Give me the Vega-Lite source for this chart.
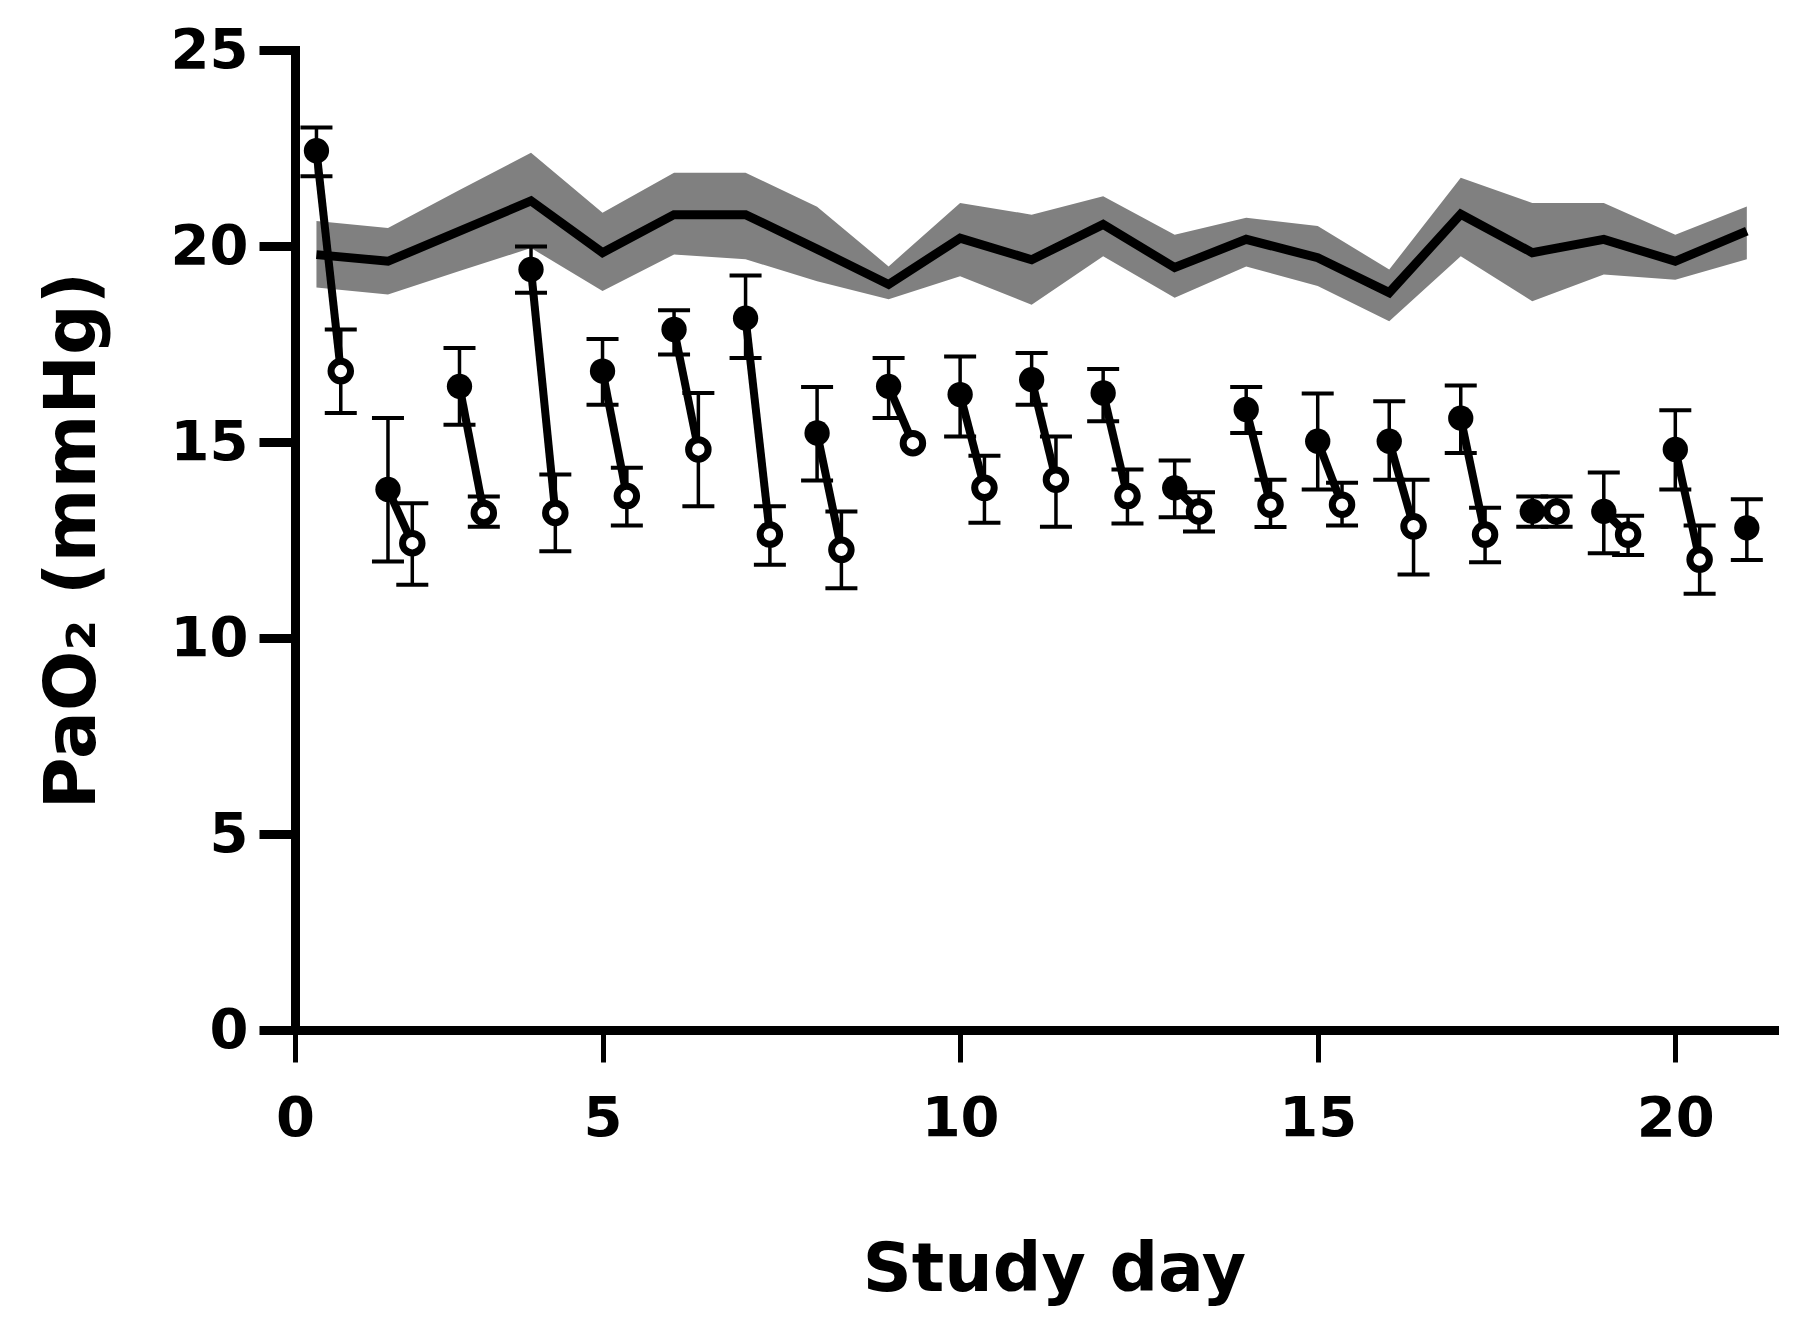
{
  "$schema": "https://vega.github.io/schema/vega-lite/v6.json",
  "width": 1479,
  "height": 980,
  "autosize": "none",
  "padding": {"left": 295, "top": 50, "right": 26, "bottom": 303},
  "background": "white",
  "config": {"view": {"stroke": null}, "axis": {"grid": false}},
  "datasets": {
    "control": [
      {"day": 1, "mean": 19.78, "lo": 18.94, "hi": 20.64},
      {"day": 2, "mean": 19.61, "lo": 18.76, "hi": 20.46},
      {"day": 3, "mean": 20.38, "lo": 19.36, "hi": 21.43},
      {"day": 4, "mean": 21.15, "lo": 19.95, "hi": 22.38},
      {"day": 5, "mean": 19.83, "lo": 18.85, "hi": 20.85},
      {"day": 6, "mean": 20.8, "lo": 19.78, "hi": 21.87},
      {"day": 7, "mean": 20.8, "lo": 19.66, "hi": 21.87},
      {"day": 8, "mean": 19.92, "lo": 19.1, "hi": 21.0},
      {"day": 9, "mean": 19.02, "lo": 18.64, "hi": 19.48},
      {"day": 10, "mean": 20.2, "lo": 19.23, "hi": 21.1},
      {"day": 11, "mean": 19.65, "lo": 18.5, "hi": 20.8},
      {"day": 12, "mean": 20.55, "lo": 19.74, "hi": 21.27},
      {"day": 13, "mean": 19.45, "lo": 18.68, "hi": 20.29},
      {"day": 14, "mean": 20.17, "lo": 19.48, "hi": 20.72},
      {"day": 15, "mean": 19.7, "lo": 18.98, "hi": 20.51},
      {"day": 16, "mean": 18.81, "lo": 18.08, "hi": 19.4},
      {"day": 17, "mean": 20.81, "lo": 19.74, "hi": 21.74},
      {"day": 18, "mean": 19.83, "lo": 18.59, "hi": 21.1},
      {"day": 19, "mean": 20.17, "lo": 19.27, "hi": 21.1},
      {"day": 20, "mean": 19.61, "lo": 19.14, "hi": 20.29},
      {"day": 21, "mean": 20.38, "lo": 19.66, "hi": 21.01}
    ],
    "patients": [
      {"day": 1, "t": 1, "phase": "pre", "mean": 22.43, "lo": 21.78, "hi": 23.02},
      {"day": 1, "t": 1.34, "phase": "post", "mean": 16.81, "lo": 15.74, "hi": 17.87},
      {"day": 2, "t": 2, "phase": "pre", "mean": 13.79, "lo": 11.95, "hi": 15.61},
      {"day": 2, "t": 2.34, "phase": "post", "mean": 12.42, "lo": 11.36, "hi": 13.44},
      {"day": 3, "t": 3, "phase": "pre", "mean": 16.42, "lo": 15.44, "hi": 17.4},
      {"day": 3, "t": 3.34, "phase": "post", "mean": 13.19, "lo": 12.84, "hi": 13.61},
      {"day": 4, "t": 4, "phase": "pre", "mean": 19.4, "lo": 18.81, "hi": 19.99},
      {"day": 4, "t": 4.34, "phase": "post", "mean": 13.19, "lo": 12.21, "hi": 14.17},
      {"day": 5, "t": 5, "phase": "pre", "mean": 16.81, "lo": 15.95, "hi": 17.63},
      {"day": 5, "t": 5.34, "phase": "post", "mean": 13.62, "lo": 12.87, "hi": 14.34},
      {"day": 6, "t": 6, "phase": "pre", "mean": 17.87, "lo": 17.23, "hi": 18.36},
      {"day": 6, "t": 6.34, "phase": "post", "mean": 14.81, "lo": 13.36, "hi": 16.25},
      {"day": 7, "t": 7, "phase": "pre", "mean": 18.16, "lo": 17.14, "hi": 19.25},
      {"day": 7, "t": 7.34, "phase": "post", "mean": 12.64, "lo": 11.87, "hi": 13.36},
      {"day": 8, "t": 8, "phase": "pre", "mean": 15.23, "lo": 14.02, "hi": 16.4},
      {"day": 8, "t": 8.34, "phase": "post", "mean": 12.25, "lo": 11.27, "hi": 13.23},
      {"day": 9, "t": 9, "phase": "pre", "mean": 16.42, "lo": 15.61, "hi": 17.14},
      {"day": 9, "t": 9.34, "phase": "post", "mean": 14.97, "lo": null, "hi": null},
      {"day": 10, "t": 10, "phase": "pre", "mean": 16.21, "lo": 15.14, "hi": 17.18},
      {"day": 10, "t": 10.34, "phase": "post", "mean": 13.83, "lo": 12.94, "hi": 14.65},
      {"day": 11, "t": 11, "phase": "pre", "mean": 16.59, "lo": 15.95, "hi": 17.27},
      {"day": 11, "t": 11.34, "phase": "post", "mean": 14.04, "lo": 12.84, "hi": 15.14},
      {"day": 12, "t": 12, "phase": "pre", "mean": 16.25, "lo": 15.53, "hi": 16.86},
      {"day": 12, "t": 12.34, "phase": "post", "mean": 13.62, "lo": 12.92, "hi": 14.3},
      {"day": 13, "t": 13, "phase": "pre", "mean": 13.83, "lo": 13.08, "hi": 14.53},
      {"day": 13, "t": 13.34, "phase": "post", "mean": 13.23, "lo": 12.72, "hi": 13.72},
      {"day": 14, "t": 14, "phase": "pre", "mean": 15.83, "lo": 15.23, "hi": 16.4},
      {"day": 14, "t": 14.34, "phase": "post", "mean": 13.4, "lo": 12.83, "hi": 14.04},
      {"day": 15, "t": 15, "phase": "pre", "mean": 15.02, "lo": 13.79, "hi": 16.24},
      {"day": 15, "t": 15.34, "phase": "post", "mean": 13.4, "lo": 12.87, "hi": 13.96},
      {"day": 16, "t": 16, "phase": "pre", "mean": 15.02, "lo": 14.04, "hi": 16.04},
      {"day": 16, "t": 16.34, "phase": "post", "mean": 12.85, "lo": 11.62, "hi": 14.04},
      {"day": 17, "t": 17, "phase": "pre", "mean": 15.61, "lo": 14.72, "hi": 16.44},
      {"day": 17, "t": 17.34, "phase": "post", "mean": 12.64, "lo": 11.93, "hi": 13.32},
      {"day": 18, "t": 18, "phase": "pre", "mean": 13.23, "lo": 12.84, "hi": 13.61},
      {"day": 18, "t": 18.34, "phase": "post", "mean": 13.23, "lo": 12.84, "hi": 13.61},
      {"day": 19, "t": 19, "phase": "pre", "mean": 13.23, "lo": 12.16, "hi": 14.22},
      {"day": 19, "t": 19.34, "phase": "post", "mean": 12.64, "lo": 12.12, "hi": 13.12},
      {"day": 20, "t": 20, "phase": "pre", "mean": 14.81, "lo": 13.79, "hi": 15.81},
      {"day": 20, "t": 20.34, "phase": "post", "mean": 12.0, "lo": 11.13, "hi": 12.87},
      {"day": 21, "t": 21, "phase": "pre", "mean": 12.81, "lo": 11.99, "hi": 13.54}
    ]
  },
  "layer": [
    {
      "data": {"name": "control"},
      "mark": {"type": "area", "color": "#808080", "opacity": 1},
      "encoding": {
        "x": {
          "field": "day", "type": "quantitative", "title": "Study day",
          "scale": {"domain": [0.7, 21.38], "nice": false, "zero": false},
          "axis": {
            "values": [0.7, 5, 10, 15, 20],
            "labelExpr": "datum.value < 1 ? '0' : format(datum.value, 'd')",
            "domainWidth": 9, "domainColor": "black", "domainCap": "square",
            "tickWidth": 5, "tickSize": 32, "tickColor": "black",
            "labelFont": "DejaVu Sans", "labelFontWeight": "bold", "labelFontSize": 56,
            "labelColor": "black", "labelPadding": 29, "labelFlush": false, "labelOverlap": false,
            "titleFont": "DejaVu Sans", "titleFontWeight": "bold",
            "titleFontSize": 68, "titleColor": "black", "titlePadding": 90, "titleX": 759
          }
        },
        "y": {
          "field": "lo", "type": "quantitative", "title": "PaO₂ (mmHg)",
          "scale": {"domain": [0, 25], "nice": false},
          "axis": {
            "values": [0, 5, 10, 15, 20, 25],
            "domainWidth": 9, "domainColor": "black", "domainCap": "square",
            "tickWidth": 9, "tickSize": 36, "tickColor": "black",
            "labelFont": "DejaVu Sans", "labelFontWeight": "bold", "labelFontSize": 56,
            "labelColor": "black", "labelPadding": 11, "labelFlush": false, "labelOverlap": false,
            "titleFont": "DejaVu Sans", "titleFontWeight": "bold",
            "titleFontSize": 71, "titleColor": "black", "titleX": -186, "titleY": 490
          }
        },
        "y2": {"field": "hi"}
      }
    },
    {
      "data": {"name": "control"},
      "mark": {"type": "line", "color": "black", "strokeWidth": 9},
      "encoding": {
        "x": {"field": "day", "type": "quantitative", "title": "Study day"},
        "y": {"field": "mean", "type": "quantitative", "title": "PaO₂ (mmHg)"}
      }
    },
    {
      "data": {"name": "patients"},
      "mark": {"type": "rule", "color": "black", "strokeWidth": 3.5},
      "encoding": {
        "x": {"field": "t", "type": "quantitative", "title": "Study day"},
        "y": {"field": "lo", "type": "quantitative", "title": "PaO₂ (mmHg)"},
        "y2": {"field": "hi"}
      }
    },
    {
      "data": {"name": "patients"},
      "mark": {"type": "tick", "orient": "horizontal", "color": "black", "size": 32, "thickness": 4, "opacity": 1},
      "encoding": {
        "x": {"field": "t", "type": "quantitative", "title": "Study day"},
        "y": {"field": "lo", "type": "quantitative", "title": "PaO₂ (mmHg)"}
      }
    },
    {
      "data": {"name": "patients"},
      "mark": {"type": "tick", "orient": "horizontal", "color": "black", "size": 32, "thickness": 4, "opacity": 1},
      "encoding": {
        "x": {"field": "t", "type": "quantitative", "title": "Study day"},
        "y": {"field": "hi", "type": "quantitative", "title": "PaO₂ (mmHg)"}
      }
    },
    {
      "data": {"name": "patients"},
      "mark": {"type": "line", "color": "black", "strokeWidth": 8},
      "encoding": {
        "x": {"field": "t", "type": "quantitative", "title": "Study day"},
        "y": {"field": "mean", "type": "quantitative", "title": "PaO₂ (mmHg)"},
        "detail": {"field": "day"}
      }
    },
    {
      "data": {"name": "patients"},
      "transform": [{"filter": "datum.phase === 'pre'"}],
      "mark": {"type": "point", "shape": "circle", "filled": true, "fill": "black", "stroke": null, "size": 640, "opacity": 1},
      "encoding": {
        "x": {"field": "t", "type": "quantitative", "title": "Study day"},
        "y": {"field": "mean", "type": "quantitative", "title": "PaO₂ (mmHg)"}
      }
    },
    {
      "data": {"name": "patients"},
      "transform": [{"filter": "datum.phase === 'post'"}],
      "mark": {"type": "point", "shape": "circle", "filled": true, "fill": "white", "stroke": "black", "strokeWidth": 7, "size": 380, "opacity": 1, "strokeOpacity": 1},
      "encoding": {
        "x": {"field": "t", "type": "quantitative", "title": "Study day"},
        "y": {"field": "mean", "type": "quantitative", "title": "PaO₂ (mmHg)"}
      }
    }
  ]
}
